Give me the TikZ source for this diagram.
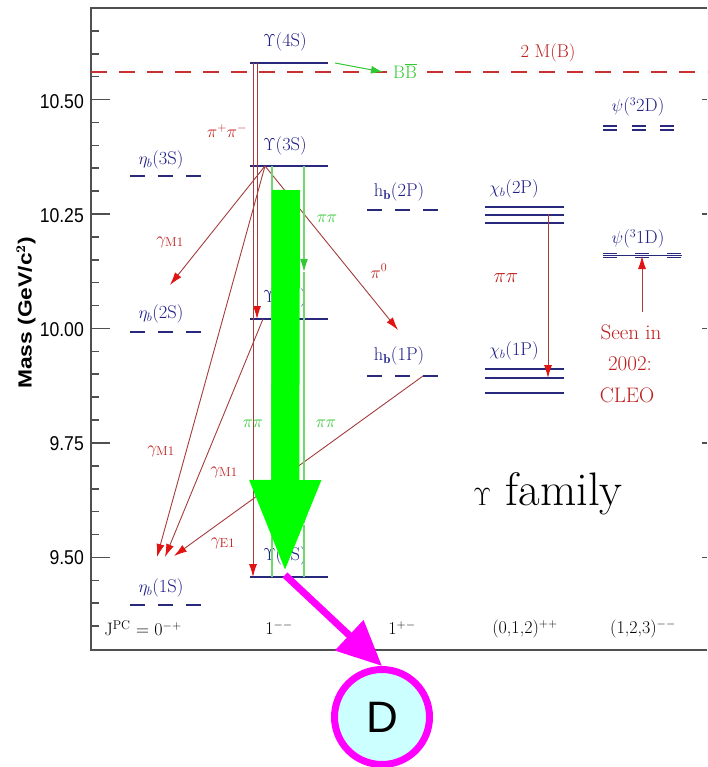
\documentclass[tikz,border=0pt]{standalone}
\usepackage{fontspec}
\newfontfamily\axfont{Liberation Sans}
\usetikzlibrary{arrows.meta}
\definecolor{lvlc}{RGB}{40,40,125}
\definecolor{lblc}{RGB}{30,30,135}
\definecolor{rtxt}{RGB}{190,30,30}
\definecolor{rline}{RGB}{165,60,60}
\definecolor{rhead}{RGB}{225,20,20}
\definecolor{gline}{RGB}{110,215,110}
\definecolor{gtxt}{RGB}{50,200,50}
\definecolor{dashc}{RGB}{200,50,50}
\definecolor{bigg}{RGB}{0,255,0}
\definecolor{mag}{RGB}{255,0,255}
\definecolor{dfill}{RGB}{204,255,255}
\definecolor{axc}{RGB}{80,80,80}
\begin{document}
\begin{tikzpicture}[x=1pt,y=-1pt,
  lvl/.style={draw=lvlc,line width=1.8pt},
  dlvl/.style={lvl,dash pattern=on 15pt off 13pt},
  lab/.style={text=lblc,font=\fontsize{18.5}{18.5}\selectfont,inner sep=0pt},
  rlab/.style={text=rtxt,font=\fontsize{18.5}{18.5}\selectfont,inner sep=0pt},
  glab/.style={text=gtxt,font=\fontsize{17}{17}\selectfont,inner sep=0pt},
  rarr/.style={draw=rline,line width=0.9pt,-{Latex[length=13pt,width=8pt,color=rhead]}},
  garr/.style={draw=gline,line width=1.4pt},
  gtip/.style={garr,-{Latex[length=13pt,width=8pt,color=gtxt]}},
  axis/.style={draw=axc,line width=1.6pt},
  ticklab/.style={font=\axfont\fontsize{20}{20}\selectfont,inner sep=0pt,anchor=east},
  jpc/.style={font=\fontsize{18}{18}\selectfont,inner sep=0pt},
]
\useasboundingbox (0,0) rectangle (707,767);
\fill[white] (0,0) rectangle (707,767);

% frame
\draw[axis] (707,8) -- (91,8) -- (91,650) -- (707,650);
\foreach \k in {1,...,27}{
  \pgfmathsetmacro\yy{649-22.895*\k}
  \pgfmathtruncatemacro\r{mod(\k,5)}
  \ifnum\r=4
    \draw[axis] (91,\yy) -- (110,\yy);
    \draw[axis] (702,\yy) -- (707,\yy);
  \else
    \draw[axis] (91,\yy) -- (99,\yy);
  \fi
}
\node[ticklab] (t1050) at (84,102) {\scalebox{0.88}[1]{10.50}};
\node[ticklab] (t1025) at (84,216) {\scalebox{0.88}[1]{10.25}};
\node[ticklab] (t1000) at (84,330) {\scalebox{0.88}[1]{10.00}};
\node[ticklab] (t975) at (84,444) {\scalebox{0.88}[1]{9.75}};
\node[ticklab] (t950) at (84,558) {\scalebox{0.88}[1]{9.50}};
\node[rotate=90,inner sep=0pt,font=\axfont\bfseries\fontsize{19}{19}\selectfont] (ylab) at (26,313) {\scalebox{1.2}[1]{Mass (GeV/c$^{\mathbf{2}}$)}};

% 2M(B) threshold
\draw[draw=dashc,line width=1.3pt,dash pattern=on 16pt off 12pt] (91,72) -- (707,72);
\node[rlab] (twomb) at (548,53) {2 M(B)};

% levels
\coordinate (u4a) at (250,63); \coordinate (u4b) at (328,63);
\coordinate (u3a) at (250,166); \coordinate (u3b) at (328,166);
\coordinate (u2a) at (250,319); \coordinate (u2b) at (328,319);
\coordinate (u1a) at (250,577); \coordinate (u1b) at (328,577);
\draw[lvl] (u4a) -- (u4b);
\draw[lvl] (u3a) -- (u3b);
\draw[lvl] (u2a) -- (u2b);
\draw[lvl] (u1a) -- (u1b);
\draw[dlvl] (130,176) -- (202,176);
\draw[dlvl] (130,332) -- (202,332);
\draw[dlvl] (130,605) -- (202,605);
\draw[dlvl] (367,210) -- (439,210);
\draw[dlvl] (367,376) -- (439,376);
\foreach \y in {207,215,223} \draw[lvl] (485,\y) -- (564,\y);
\foreach \y in {369,378,393} \draw[lvl] (485,\y) -- (564,\y);
\draw[draw=lvlc,line width=1.5pt,dash pattern=on 14pt off 14.5pt] (603,126) -- (675,126);
\draw[draw=lvlc,line width=1.5pt,dash pattern=on 14pt off 14.5pt] (603,130) -- (675,130);
\draw[draw=lvlc,line width=0.8pt] (603,255.5) -- (682,255.5);
\draw[draw=lvlc,line width=1.5pt,dash pattern=on 14pt off 18pt] (603,253.5) -- (682,253.5);
\draw[draw=lvlc,line width=1.5pt,dash pattern=on 14pt off 18pt] (603,257.5) -- (682,257.5);

% level labels
\node[lab] (lu4) at (285,42) {$\Upsilon$(4S)};
\node[lab] (lu3) at (285,146) {$\Upsilon$(3S)};
\node[lab] (lu2) at (285,298) {$\Upsilon$(2S)};
\node[lab] (lu1) at (285,556) {$\Upsilon$(1S)};
\node[lab] (le3) at (161,160) {$\eta_b$(3S)};
\node[lab] (le2) at (161,314) {$\eta_b$(2S)};
\node[lab] (le1) at (161,588) {$\eta_b$(1S)};
\node[lab] (lh2) at (399,192) {h$_{\mathbf{b}}$(2P)};
\node[lab] (lh1) at (399,356) {h$_{\mathbf{b}}$(1P)};
\node[lab] (lc2) at (514,189) {$\chi_b$(2P)};
\node[lab] (lc1) at (514,351) {$\chi_b$(1P)};
\node[lab] (lp2) at (638,107) {$\psi$($^3$2D)};
\node[lab] (lp1) at (638,239) {$\psi$($^3$1D)};

% red transitions
\coordinate (t4a) at (253,63); \coordinate (t4b) at (257,63);
\coordinate (b2) at (257,319); \coordinate (b1) at (253,577);
\draw[rarr] (t4b) -- (b2);
\draw[rarr] (t4a) -- (b1);
\coordinate (ap3) at (265,166);
\coordinate (e2t) at (170,285);
\coordinate (h1t) at (398,330);
\coordinate (e1a) at (157,557);
\draw[rarr] (ap3) -- (e2t);
\draw[rarr] (ap3) -- (h1t);
\draw[rarr] (ap3) -- (e1a);
\coordinate (ap2) at (263,319); \coordinate (e1b) at (165,557);
\draw[rarr] (ap2) -- (e1b);
\coordinate (h1r) at (423,376); \coordinate (e1c) at (174,556);
\draw[rarr] (h1r) -- (e1c);
\coordinate (c2a) at (548,214); \coordinate (c1a) at (548,378);
\draw[rarr] (c2a) -- (c1a);
\coordinate (seen) at (642,312); \coordinate (d1) at (642,256);
\draw[rarr] (seen) -- (d1);

% green transitions
\coordinate (g3) at (304,166); \coordinate (gm1) at (304,272);
\coordinate (gm2) at (304,525); \coordinate (g1) at (304,577);
\draw[gtip] (g3) -- (gm1);
\draw[gtip] (gm1) -- (gm2);
\draw[garr] (gm2) -- (g1);
\coordinate (h3) at (272,166); \coordinate (h1) at (272,577);
\draw[garr] (h3) -- (h1);
\coordinate (u4r) at (335,63); \coordinate (bbt) at (383,72);
\draw[draw=gtxt,line width=1pt,-{Latex[length=12pt,width=8pt]}] (u4r) -- (bbt);
\node[text=gtxt,font=\fontsize{18}{18}\selectfont,fill=white,inner sep=1pt] (bb) at (405,71) {B$\overline{\mathrm{B}}$};

% transition labels
\node[rlab] (lpp) at (227,131) {$\pi^+\pi^-$};
\node[rlab] (lg1) at (170,242) {$\gamma_{\rm M1}$};
\node[rlab] (lpi0) at (379,271) {$\pi^0$};
\node[glab] (lgpp) at (327,219) {$\pi\pi$};
\node[rlab,font=\fontsize{20}{20}\selectfont] (lrpp) at (506,278) {$\pi\pi$};
\node[glab] (lgpl) at (253,424) {$\pi\pi$};
\node[glab] (lgpr) at (326,424) {$\pi\pi$};
\node[rlab] (lg2) at (161,451) {$\gamma_{\rm M1}$};
\node[rlab] (lg3) at (224,472) {$\gamma_{\rm M1}$};
\node[rlab] (lg4) at (223,543) {$\gamma_{\rm E1}$};
\node[rlab,font=\fontsize{21}{21}\selectfont] (ls1) at (631,332) {Seen in};
\node[rlab,font=\fontsize{21}{21}\selectfont] (ls2) at (630,364) {2002:};
\node[rlab,font=\fontsize{21}{21}\selectfont] (ls3) at (627,395) {CLEO};

% JPC row
\node[jpc] (j0) at (143,628) {J$^{\rm PC}$ = 0$^{-+}$};
\node[jpc] (j1) at (279,628) {1$^{--}$};
\node[jpc] (j2) at (402,628) {1$^{+-}$};
\node[jpc] (j3) at (525,629) {(0,1,2)$^{++}$};
\node[jpc] (j4) at (643,629) {(1,2,3)$^{--}$};

\node[font=\fontsize{47}{47}\selectfont,inner sep=0pt] (fam) at (548,494) {$\Upsilon$ family};

% big green arrow
\coordinate (bg3) at (286,190); \coordinate (bg1) at (285,575);
\draw[draw=bigg,line width=28pt,-{Triangle[length=95pt,width=64pt,color=bigg]}] (bg3) -- (bg1);

% D node and magenta arrow
\node[circle,draw=mag,line width=7pt,fill=dfill,minimum size=95pt,inner sep=0pt,font=\axfont\fontsize{44}{44}\selectfont] (D) at (382,717) {D};
\draw[draw=mag,line width=7pt,-{Triangle[length=45pt,width=40pt,color=mag]}] (bg1) -- (D.north);
\end{tikzpicture}
\end{document}
